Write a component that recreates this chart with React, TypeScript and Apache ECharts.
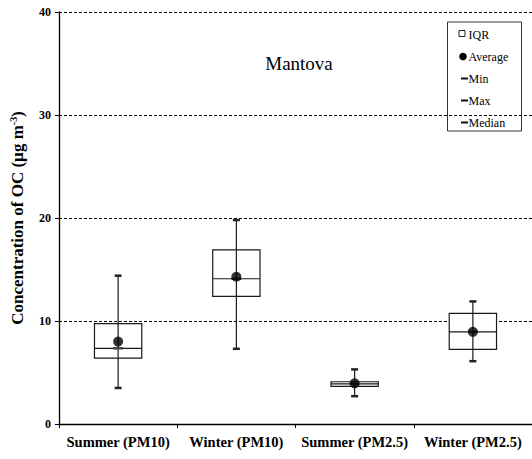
import React, { useEffect, useRef } from "react";
import * as echarts from "echarts";

const categories = ["Summer (PM10)", "Winter (PM10)", "Summer (PM2.5)", "Winter (PM2.5)"];
const minVals = [3.5, 7.3, 2.7, 6.1];
const q1Vals = [6.4, 12.4, 3.65, 7.25];
const medianVals = [7.35, 14.1, 3.9, 8.95];
const q3Vals = [9.75, 16.9, 4.1, 10.75];
const maxVals = [14.4, 19.8, 5.3, 11.9];
const avgVals = [8.0, 14.3, 3.95, 8.95];
const yTicks = [0, 10, 20, 30, 40];
const legendItems = ["IQR", "Average", "Min", "Max", "Median"];

const FONT = "Liberation Serif";

export default function App() {
  const ref = useRef<HTMLDivElement>(null);

  useEffect(() => {
    if (!ref.current) return;
    const chart = echarts.init(ref.current, null, { renderer: "svg" });

    const boxData = categories.map((_, i) => [
      i,
      minVals[i],
      q1Vals[i],
      medianVals[i],
      q3Vals[i],
      maxVals[i],
    ]);

    // Box = IQR, whisker = min..max with short caps, plus a short median mark
    const renderBox = (params: any, api: any) => {
      const idx = api.value(0);
      const pMin = api.coord([idx, api.value(1)]);
      const pQ1 = api.coord([idx, api.value(2)]);
      const pMed = api.coord([idx, api.value(3)]);
      const pQ3 = api.coord([idx, api.value(4)]);
      const pMax = api.coord([idx, api.value(5)]);
      const bandW = api.size([1, 0])[0];
      const halfW = bandW * 0.2;
      const capHalf = 3.5;
      const cx = pMin[0];
      const stroke = "#1a1a1a";
      return {
        type: "group",
        children: [
          {
            type: "rect",
            shape: { x: cx - halfW, y: pQ3[1], width: halfW * 2, height: pQ1[1] - pQ3[1] },
            style: { fill: "#fff", stroke, lineWidth: 1.2 },
          },
          {
            type: "line",
            shape: { x1: cx - halfW, y1: pMed[1], x2: cx + halfW, y2: pMed[1] },
            style: { stroke, lineWidth: 1.2 },
          },
          {
            type: "line",
            shape: { x1: cx, y1: pMax[1], x2: cx, y2: pMin[1] },
            style: { stroke, lineWidth: 1.2 },
          },
          {
            type: "line",
            shape: { x1: cx - capHalf, y1: pMax[1], x2: cx + capHalf, y2: pMax[1] },
            style: { stroke: "#222", lineWidth: 2.5 },
          },
          {
            type: "line",
            shape: { x1: cx - capHalf, y1: pMin[1], x2: cx + capHalf, y2: pMin[1] },
            style: { stroke: "#222", lineWidth: 2.5 },
          },
          {
            type: "line",
            shape: { x1: cx - 5, y1: pMed[1], x2: cx + 5, y2: pMed[1] },
            style: { stroke: "#444", lineWidth: 2.5 },
          },
        ],
      };
    };

    const itemYs = [34.5, 56.5, 78.5, 100.5, 122.5];
    const legendChildren: any[] = [
      {
        type: "rect",
        shape: { x: 447.5, y: 22, width: 74, height: 109 },
        style: { fill: "#fff", stroke: "#333", lineWidth: 1 },
      },
    ];
    legendItems.forEach((name, i) => {
      const y = itemYs[i];
      if (name === "IQR") {
        legendChildren.push({
          type: "rect",
          shape: { x: 459, y: y - 4, width: 6, height: 6 },
          style: { fill: "#fff", stroke: "#222", lineWidth: 1 },
        });
      } else if (name === "Average") {
        legendChildren.push({
          type: "circle",
          shape: { cx: 463, cy: y, r: 3.8 },
          style: { fill: "#000" },
        });
      } else {
        legendChildren.push({
          type: "line",
          shape: { x1: 461, y1: y, x2: 468, y2: y },
          style: { stroke: "#111", lineWidth: 2 },
        });
      }
      legendChildren.push({
        type: "text",
        x: 468.5,
        y,
        style: {
          text: name,
          fontFamily: FONT,
          fontSize: 12,
          fill: "#000",
          textVerticalAlign: "middle",
        },
      });
    });

    chart.setOption({
      animation: false,
      backgroundColor: "#fff",
      grid: { left: 59, right: -3, top: 12, bottom: 35 },
      xAxis: {
        type: "category",
        data: categories,
        boundaryGap: true,
        axisLine: { lineStyle: { color: "#000", width: 1.3 } },
        axisTick: { show: true, length: 4, lineStyle: { color: "#000" } },
        axisLabel: {
          color: "#000",
          fontFamily: FONT,
          fontWeight: "bold",
          fontSize: 14.5,
          margin: 10,
          interval: 0,
        },
        splitLine: { show: false },
      },
      yAxis: {
        type: "value",
        min: 0,
        max: 40,
        interval: 10,
        axisLine: { show: true, lineStyle: { color: "#000", width: 1.3 } },
        axisTick: { show: true, length: 4, lineStyle: { color: "#000" } },
        axisLabel: {
          color: "#000",
          fontFamily: FONT,
          fontWeight: "bold",
          fontSize: 12,
          margin: 8,
          formatter: (v: number) => (yTicks.includes(v) ? String(v) : ""),
        },
        splitLine: {
          show: true,
          lineStyle: { color: "#000", type: [3, 2], width: 1 },
        },
        name: "Concentration of OC (µg m{sup|-3})",
        nameLocation: "middle",
        nameGap: 32,
        nameTextStyle: {
          color: "#000",
          fontFamily: FONT,
          fontWeight: "bold",
          fontSize: 17,
          rich: {
            sup: {
              fontFamily: FONT,
              fontWeight: "bold",
              fontSize: 10,
              verticalAlign: "top",
              padding: [0, 0, 9, 0],
              color: "#000",
            },
          },
        },
      },
      series: [
        {
          type: "custom",
          renderItem: renderBox,
          data: boxData,
          encode: { x: 0, y: [1, 2, 3, 4, 5] },
          z: 3,
        },
        {
          type: "scatter",
          data: avgVals.map((v, i) => [i, v]),
          symbol: "circle",
          symbolSize: 10,
          itemStyle: { color: "#000" },
          z: 5,
        },
      ],
      graphic: [
        {
          type: "text",
          x: 299,
          y: 63,
          style: {
            text: "Mantova",
            fontFamily: FONT,
            fontSize: 19,
            fill: "#000",
            textAlign: "center",
            textVerticalAlign: "middle",
          },
        },
        { type: "group", children: legendChildren },
      ],
    });

    return () => chart.dispose();
  }, []);

  return <div ref={ref} style={{ width: 532, height: 459, position: "absolute", left: 0, top: 0 }} />;
}
